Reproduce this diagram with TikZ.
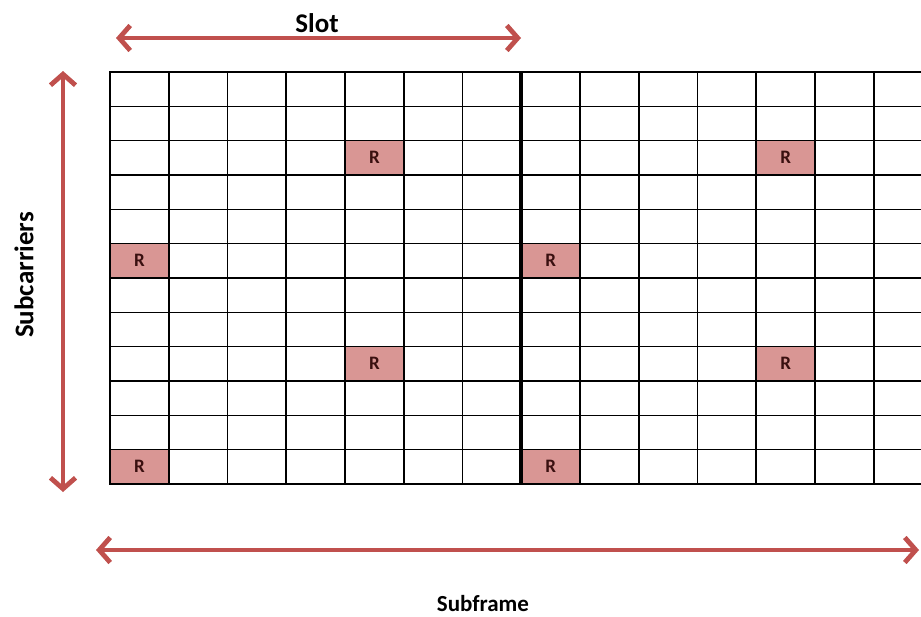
\documentclass[tikz,border=0pt]{standalone}
\usepackage{fontspec}
\setmainfont{Carlito}
\usetikzlibrary{arrows.meta}
\definecolor{arrowred}{HTML}{C0504D}
\definecolor{cellpink}{HTML}{D99694}
\definecolor{celltext}{HTML}{3A1010}

\begin{document}
\begin{tikzpicture}[x=1pt,y=-1pt,
  gridline/.style={draw=black,line width=1.6pt,line cap=rect},
  slotline/.style={draw=black,line width=4pt},
  rcell/.style={rectangle,fill=cellpink,minimum width=58.75pt,minimum height=34.33pt,inner sep=0pt,font=\bfseries\fontsize{19}{19}\selectfont,text=celltext},
  dimarrow/.style={{Straight Barb[length=11pt,width=25pt]}-{Straight Barb[length=11pt,width=25pt]},draw=arrowred,line width=4.8pt,line cap=round,line join=round},
  lbl/.style={font=\bfseries\fontsize{23}{23}\selectfont,inner sep=0pt},
  biglbl/.style={lbl,font=\bfseries\fontsize{27}{27}\selectfont}
]
  \useasboundingbox (0,0) rectangle (921,616);
  \begin{scope}
    \clip (0,0) rectangle (921,616);
    \foreach \c/\r [count=\i] in {5/3,12/3,1/6,8/6,5/9,12/9,1/12,8/12}
      \node[rcell] (r\i) at ({110+(\c-0.5)*58.75},{72+(\r-0.5)*34.33}) {R};
    \foreach \i in {0,...,12}
      \draw[gridline] (110,{72+\i*34.33}) -- (935,{72+\i*34.33});
    \foreach \j in {0,...,14}
      \draw[gridline] ({110+\j*58.75},72) -- ({110+\j*58.75},484);
    \draw[slotline] (521.25,72) -- (521.25,484);
  \end{scope}

  \coordinate (slotL) at (116,38);
  \coordinate (slotR) at (521,38);
  \coordinate (subcT) at (63,71);
  \coordinate (subcB) at (63,492);
  \coordinate (sfL) at (96,550);
  \coordinate (sfR) at (919,550);

  \draw[dimarrow] (slotL) -- (slotR);
  \draw[dimarrow] (subcT) -- (subcB);
  \draw[dimarrow] (sfL) -- (sfR);

  \node[biglbl] (slot) at (317,23) {Slot};
  \node[biglbl,rotate=90] (subc) at (24,275) {Subcarriers};
  \node[lbl] (subframe) at (483,604) {Subframe};
\end{tikzpicture}
\end{document}
